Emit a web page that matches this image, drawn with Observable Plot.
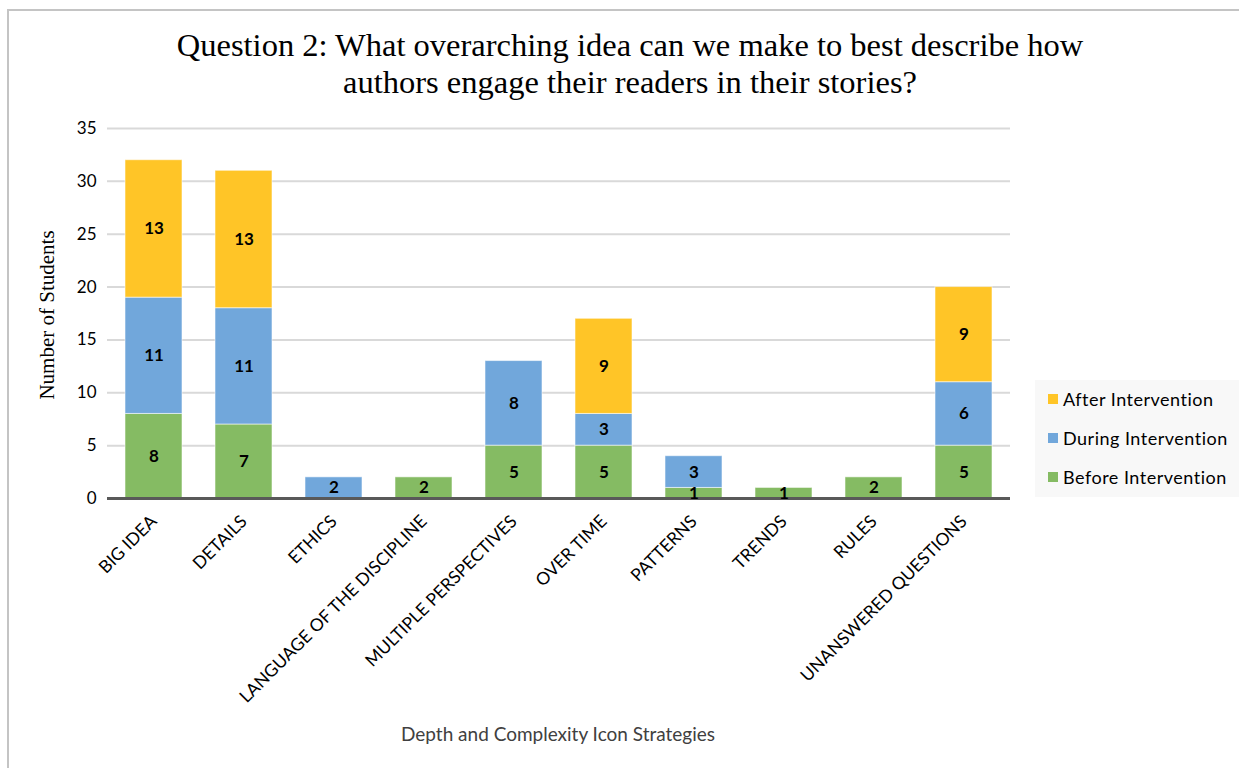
<!DOCTYPE html>
<html>
<head>
<meta charset="utf-8">
<script src="https://cdn.jsdelivr.net/npm/d3@7"></script>
<script src="https://cdn.jsdelivr.net/npm/@observablehq/plot@0.6"></script>
<style>
  body { margin: 0; background: #fff; }
  #wrap { position: relative; width: 1239px; height: 768px; overflow: hidden; background: #fff; }
  #frame { position: absolute; left: 7px; top: 9px; width: 1300px; height: 800px;
           border-left: 2px solid #c4c4c4; border-top: 2px solid #c4c4c4; }
  #title { position: absolute; left: 0; top: 27px; width: 1260px; text-align: center;
           font-family: "Liberation Serif", "Times New Roman", serif; font-size: 32.5px; line-height: 37px; color: #000; }
  #ytitle { position: absolute; left: 47px; top: 315px; transform: translate(-50%, -50%) rotate(-90deg);
            font-family: "Liberation Serif", serif; font-size: 21px; color: #000; white-space: nowrap; }
  #xtitle { position: absolute; left: 558px; top: 722px; transform: translateX(-50%);
            font-family: "Lato", sans-serif; font-size: 19px; color: #404040; white-space: nowrap; }
  #legend { position: absolute; left: 1035px; top: 380px; width: 204px; height: 117px; background: #f8f8f8;
            font-family: "Lato", sans-serif; font-size: 18px; color: #000; }
  .li { position: absolute; left: 13px; height: 20px; display: flex; align-items: center; letter-spacing: 0.5px; }
  .sw { width: 10px; height: 10px; margin-right: 5px; }
  #chart { position: absolute; left: 0; top: 0; }
</style>
</head>
<body>
<div id="wrap">
  <div id="frame"></div>
  <div id="title">Question 2: What overarching idea can we make to best describe how<br>authors engage their readers in their stories?</div>
  <div id="chart"></div>
  <div id="ytitle">Number of Students</div>
  <div id="xtitle">Depth and Complexity Icon Strategies</div>
  <div id="legend"></div>
</div>
<script>
const categories = ["BIG IDEA", "DETAILS", "ETHICS", "LANGUAGE OF THE DISCIPLINE", "MULTIPLE PERSPECTIVES",
  "OVER TIME", "PATTERNS", "TRENDS", "RULES", "UNANSWERED QUESTIONS"];
const seriesNames = ["Before Intervention", "During Intervention", "After Intervention"];
const seriesColors = ["#85bb63", "#71a7db", "#ffc527"];
const beforeValues = [8, 7, 0, 2, 5, 5, 1, 1, 2, 5];
const duringValues = [11, 11, 2, 0, 8, 3, 3, 0, 0, 6];
const afterValues = [13, 13, 0, 0, 0, 9, 0, 0, 0, 9];
const yTicks = [0, 5, 10, 15, 20, 25, 30, 35];

const valuesBySeries = [beforeValues, duringValues, afterValues];
const rows = [];
categories.forEach((c, i) => {
  seriesNames.forEach((s, j) => {
    const v = valuesBySeries[j][i];
    if (v > 0) rows.push({category: c, series: s, value: v});
  });
});

const chart = Plot.plot({
  width: 1239,
  height: 768,
  marginLeft: 107,
  marginRight: 229,
  marginTop: 128,
  marginBottom: 270,
  style: {fontFamily: "Lato, sans-serif", fontSize: "16px", color: "#000", background: "transparent"},
  x: {domain: categories, paddingInner: 0.37, paddingOuter: 0.185, label: null},
  y: {domain: [0, 35], label: null},
  color: {domain: seriesNames, range: seriesColors},
  marks: [
    Plot.ruleY(yTicks.filter(d => d > 0), {stroke: "#d9d9d9", strokeWidth: 2}),
    Plot.barY(rows, Plot.stackY({x: "category", y: "value", fill: "series", order: seriesNames,
      stroke: "#ffffff", strokeOpacity: 0.55, strokeWidth: 1})),
    Plot.ruleY([0], {stroke: "#595959", strokeWidth: 3}),
    Plot.text(rows, Plot.stackY({x: "category", y: "value", z: "series", order: seriesNames, text: "value",
      fontWeight: "bold", fontSize: 17, fill: "#000"})),
    Plot.axisY({ticks: yTicks, tickSize: 0, tickPadding: 11, fontSize: 17, label: null}),
    Plot.axisX({tickRotate: -45, tickSize: 0, tickPadding: 14, dy: 6, fontSize: 17.5, label: null})
  ]
});
document.getElementById("chart").appendChild(chart);

const legend = document.getElementById("legend");
const legendOrder = [2, 1, 0];
legendOrder.forEach((j, k) => {
  const item = document.createElement("div");
  item.className = "li";
  item.style.top = (9 + k * 39) + "px";
  item.innerHTML = `<div class="sw" style="background:${seriesColors[j]}"></div><span>${seriesNames[j]}</span>`;
  legend.appendChild(item);
});
</script>
</body>
</html>
